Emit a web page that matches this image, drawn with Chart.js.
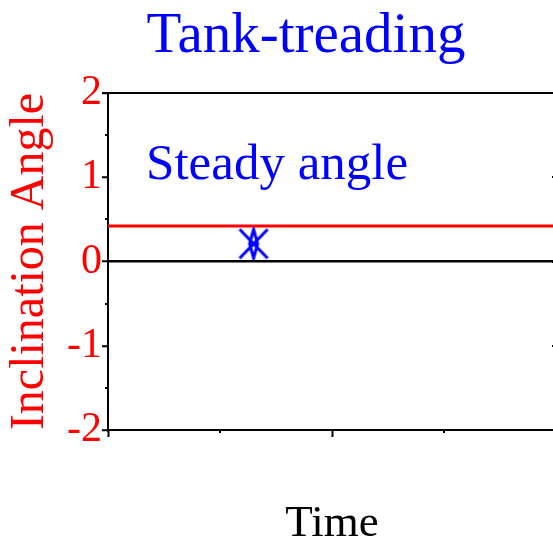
<!DOCTYPE html>
<html>
<head>
<meta charset="utf-8">
<script src="https://cdn.jsdelivr.net/npm/chart.js@4/dist/chart.umd.min.js"></script>
<style>
  html, body { margin: 0; padding: 0; overflow: hidden; background: #fff; }
  #wrap { width: 612px; height: 547px; }
</style>
</head>
<body>
<div id="wrap"><canvas id="chart" width="612" height="547"></canvas></div>
<script>
// Data
const lineTime = [0, 2];
const steadyAngle = [0.42, 0.42];
const markerTime = [0.65];
const markerAngle = [0.21];
const yTickValues = [-2, -1, 0, 1, 2];
const yMinorValues = [-1.5, -0.5, 0.5, 1.5];
const xTickValues = [0, 1, 2];
const xMinorValues = [0.5, 1.5];

const BLUE = '#0000ff';
const RED = '#ff0000';
const SERIF = '"Liberation Serif", "DejaVu Serif", serif';

// marker: X with a thin diamond through it
function makeMarker() {
    const c = document.createElement('canvas');
    c.width = 32; c.height = 33;
    const g = c.getContext('2d');
    g.strokeStyle = BLUE;
    g.lineWidth = 3;
    g.beginPath();
    g.moveTo(2, 2); g.lineTo(30, 31);
    g.moveTo(30, 2); g.lineTo(2, 31);
    g.moveTo(16, 2); g.lineTo(12, 16.5); g.lineTo(16, 31); g.lineTo(20, 16.5); g.closePath();
    g.stroke();
    return c;
}

// extra drawing: title, minor ticks, top frame, text label
const extras = {
    id: 'extras',
    afterDraw(chart) {
        const ctx = chart.ctx;
        const x = chart.scales.x, y = chart.scales.y;
        const area = chart.chartArea;
        ctx.save();
        ctx.strokeStyle = '#000';
        ctx.lineWidth = 2;
        ctx.beginPath();
        xMinorValues.forEach(v => {
            const px = Math.round(x.getPixelForValue(v));
            ctx.moveTo(px, area.bottom);
            ctx.lineTo(px, area.bottom + 3);
        });
        yMinorValues.forEach(v => {
            const py = Math.round(y.getPixelForValue(v));
            ctx.moveTo(area.left, py);
            ctx.lineTo(area.left - 3, py);
        });
        // right side inward ticks
        yTickValues.forEach(v => {
            const py = Math.round(y.getPixelForValue(v));
            ctx.moveTo(area.right, py);
            ctx.lineTo(area.right - 4, py);
        });
        // top frame
        ctx.moveTo(area.left - 6, area.top);
        ctx.lineTo(area.right, area.top);
        ctx.stroke();

        ctx.fillStyle = BLUE;
        ctx.textBaseline = 'alphabetic';
        ctx.textAlign = 'left';
        ctx.font = '51px ' + SERIF;
        ctx.fillText('Steady angle', x.getPixelForValue(0.17), y.getPixelForValue(0.98));

        ctx.textAlign = 'center';
        ctx.font = '57px ' + SERIF;
        ctx.fillText('Tank-treading', 306, 52);
        ctx.restore();
    }
};

new Chart(document.getElementById('chart'), {
    type: 'scatter',
    data: {
        datasets: [
            {
                label: 'Steady angle',
                data: lineTime.map((t, i) => ({ x: t, y: steadyAngle[i] })),
                showLine: true,
                borderColor: RED,
                borderWidth: 3,
                pointRadius: 0
            },
            {
                label: 'Marker',
                data: markerTime.map((t, i) => ({ x: t, y: markerAngle[i] })),
                pointStyle: makeMarker(),
                pointRadius: 16
            }
        ]
    },
    options: {
        responsive: false,
        animation: false,
        layout: { autoPadding: false, padding: { left: 0, right: 56, top: 93, bottom: 0 } },
        plugins: {
            legend: { display: false },
            tooltip: { enabled: false },
            title: { display: false }
        },
        scales: {
            x: {
                type: 'linear',
                min: 0,
                max: 2,
                afterBuildTicks: s => { s.ticks = xTickValues.map(v => ({ value: v })); },
                afterFit: s => { s.height = 117; },
                ticks: { display: false },
                grid: { drawOnChartArea: false, tickLength: 7, tickWidth: 2, tickColor: '#000' },
                border: { color: '#000', width: 2 },
                title: {
                    display: true,
                    text: 'Time',
                    color: '#000',
                    font: { family: SERIF, size: 45, lineHeight: 1 },
                    padding: { top: 0, bottom: 0 }
                }
            },
            y: {
                type: 'linear',
                min: -2,
                max: 2,
                afterBuildTicks: s => { s.ticks = yTickValues.map(v => ({ value: v })); },
                afterFit: s => { s.width = 108; },
                ticks: {
                    color: RED,
                    padding: 0,
                    font: { family: SERIF, size: 42 },
                    callback: v => String(v)
                },
                grid: {
                    color: ctx => (ctx.tick && ctx.tick.value === 0 ? '#000' : 'rgba(0,0,0,0)'),
                    lineWidth: 2.5,
                    tickLength: 6,
                    tickWidth: 2,
                    tickColor: '#000'
                },
                border: { color: '#000', width: 2 },
                title: {
                    display: true,
                    text: 'Inclination Angle',
                    color: RED,
                    font: { family: SERIF, size: 48, lineHeight: 1 },
                    padding: { top: 6, bottom: 0 }
                }
            }
        }
    },
    plugins: [extras]
});
</script>
</body>
</html>
